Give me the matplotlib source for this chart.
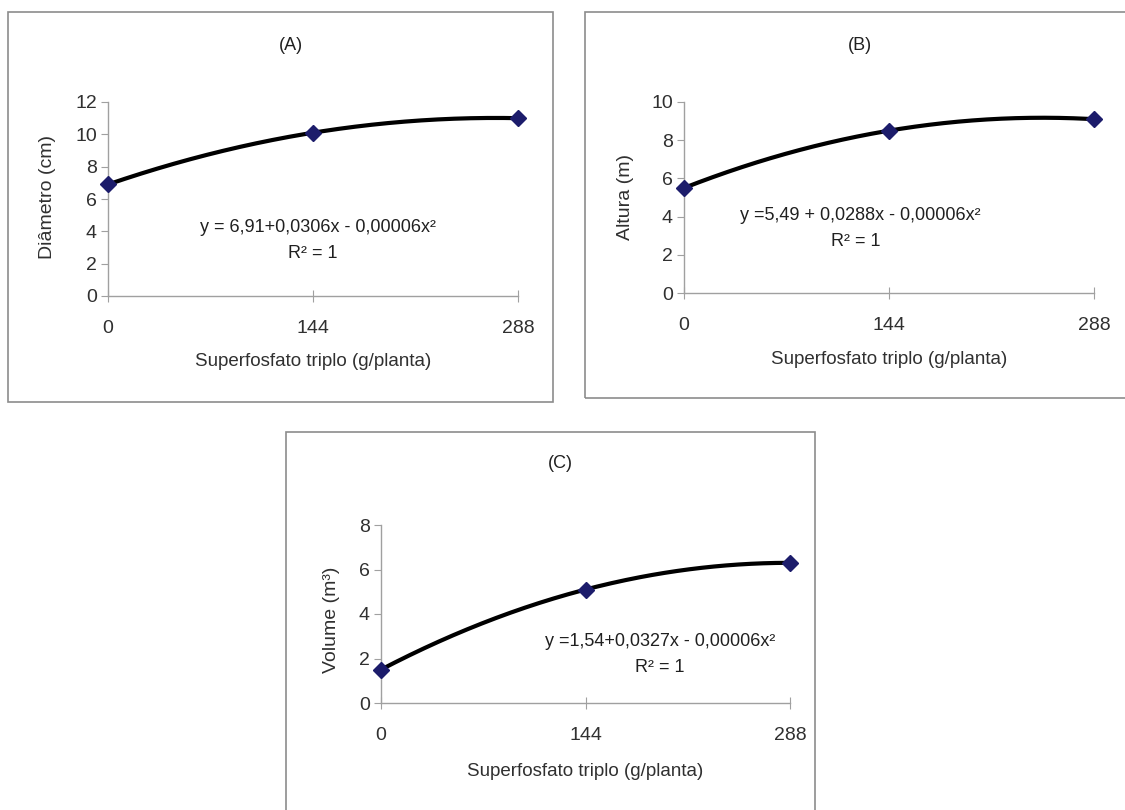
import numpy as np
import matplotlib
matplotlib.use('Agg')
import matplotlib.pyplot as plt
from matplotlib.patches import Rectangle

plt.rcParams['font.family'] = ['Liberation Sans', 'DejaVu Sans']

# superfosfato triplo doses (g/planta)
doses = [0, 144, 288]
diametro = [6.9, 10.1, 11.0]
altura = [5.5, 8.5, 9.1]
volume = [1.5, 5.1, 6.3]

titles = ['(A)', '(B)', '(C)']
ylabels = ['Diâmetro (cm)', 'Altura (m)', 'Volume (m³)']
xlabel = 'Superfosfato triplo (g/planta)'
equations = ['y = 6,91+0,0306x - 0,00006x²',
             'y =5,49 + 0,0288x - 0,00006x²',
             'y =1,54+0,0327x - 0,00006x²']
r2_text = 'R² = 1'
ymax = [12, 10, 8]

W, H = 1125, 810
fig = plt.figure(figsize=(W / 100, H / 100), dpi=100)


def fx(px):
    return px / W


def fy(py):
    return 1 - py / H


# panel layout in pixels: frame (l, t, r, b), axes (l, r, y0, ytop),
# title pos, ylabel pos, xlabel y, equation pos
panels = [
    dict(frame=(8, 12, 553, 402), ax=(108, 518, 296, 102), title=(291, 45),
         ylab=(48, 197), xlab_y=362, eq=(318, 228), r2=(313, 253)),
    dict(frame=(585, 12, 1130, 398), ax=(684, 1094, 293, 102), title=(860, 45),
         ylab=(625, 197), xlab_y=360, eq=(860, 215), r2=(856, 242)),
    dict(frame=(286, 432, 815, 815), ax=(381, 790, 703, 525), title=(560, 463),
         ylab=(331, 620), xlab_y=772, eq=(660, 641), r2=(660, 667)),
]
series = [diametro, altura, volume]

for i, p in enumerate(panels):
    l, t, r, b = p['frame']
    fig.add_artist(Rectangle((fx(l), fy(b)), fx(r - l), (b - t) / H,
                             transform=fig.transFigure, fill=False,
                             edgecolor='#8c8c8c', linewidth=1.2))
    al, ar, y0, ytop = p['ax']
    ax = fig.add_axes([fx(al), fy(y0), fx(ar - al), (y0 - ytop) / H])
    vals = series[i]
    coef = np.polyfit(doses, vals, 2)
    xs = np.linspace(doses[0], doses[-1], 200)
    ax.plot(xs, np.polyval(coef, xs), color='black', linewidth=3, zorder=2)
    ax.plot(doses, vals, linestyle='none', marker='D', markersize=8.5,
            color='#1c1c6b', zorder=3, clip_on=False)
    ax.set_xlim(0, 288)
    ax.set_ylim(0, ymax[i])
    ax.set_xticks(doses)
    ax.set_yticks(np.arange(0, ymax[i] + 1, 2))
    for s in ['top', 'right']:
        ax.spines[s].set_visible(False)
    for s in ['left', 'bottom']:
        ax.spines[s].set_color('#a0a0a0')
        ax.spines[s].set_linewidth(1.0)
    ax.tick_params(axis='x', direction='inout', length=8, pad=13,
                   colors='#a0a0a0', labelcolor='#303030', labelsize=14)
    ax.tick_params(axis='y', direction='out', length=5, pad=3,
                   colors='#a0a0a0', labelcolor='#303030', labelsize=14)
    ax.patch.set_alpha(0)

    fig.text(fx(p['title'][0]), fy(p['title'][1]), titles[i], ha='center',
             va='center', fontsize=13, color='#202020')
    fig.text(fx(p['ylab'][0]), fy(p['ylab'][1]), ylabels[i], ha='center',
             va='center', rotation=90, fontsize=14, color='#303030')
    fig.text(fx((al + ar) / 2), fy(p['xlab_y']), xlabel, ha='center',
             va='center', fontsize=13.5, color='#303030')
    fig.text(fx(p['eq'][0]), fy(p['eq'][1]), equations[i], ha='center',
             va='center', fontsize=13, color='#202020')
    fig.text(fx(p['r2'][0]), fy(p['r2'][1]), r2_text, ha='center',
             va='center', fontsize=13, color='#202020')

fig.savefig('out.png', dpi=100)
